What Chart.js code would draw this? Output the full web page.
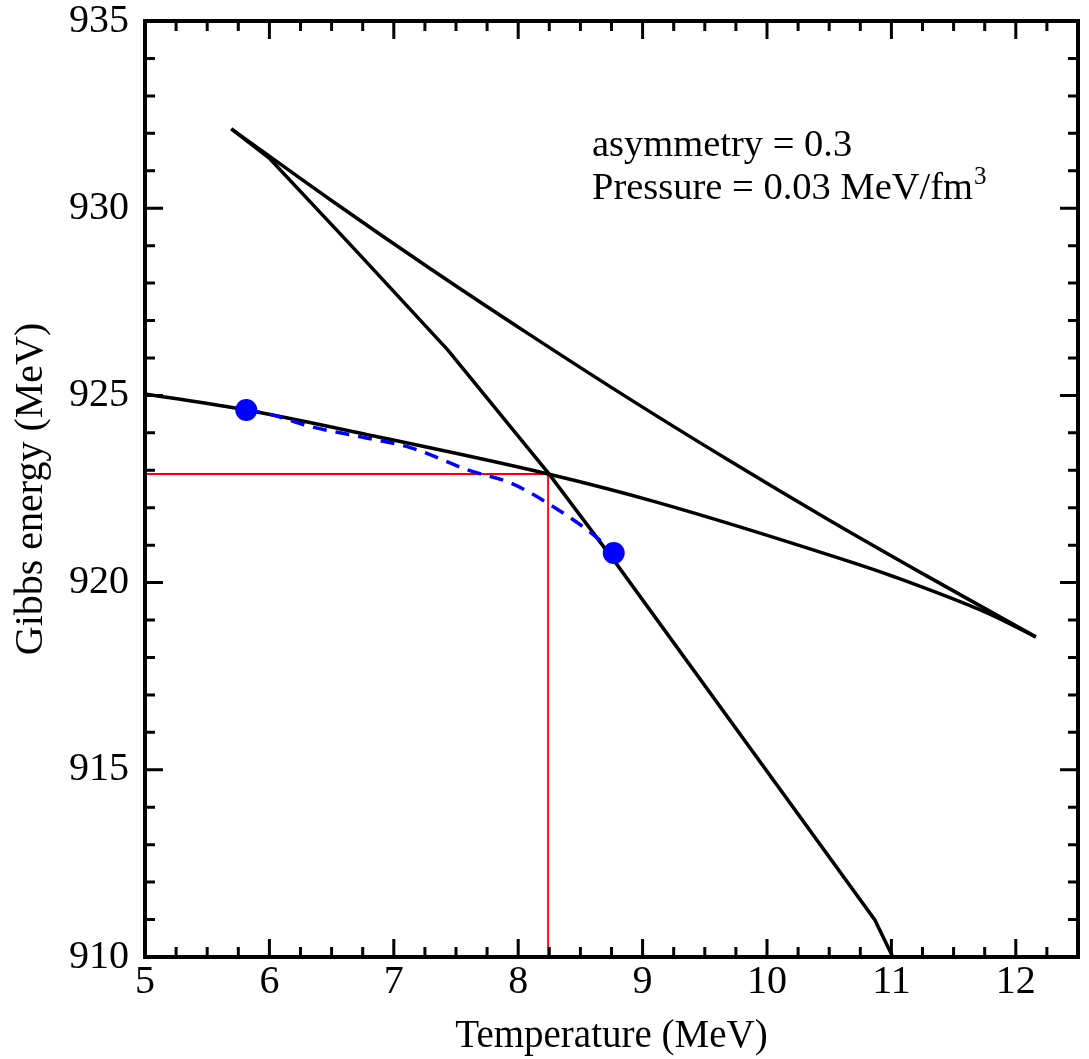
<!DOCTYPE html>
<html>
<head>
<meta charset="utf-8">
<script src="https://cdn.jsdelivr.net/npm/chart.js@4.4.1/dist/chart.umd.min.js"></script>
<style>
  html, body { margin: 0; padding: 0; background: #fff; overflow: hidden; }
  canvas { display: block; }
</style>
</head>
<body>
<canvas id="gibbsChart" width="1089" height="1059"></canvas>
<script>
// ── Gibbs energy vs temperature, three branches + Maxwell path ──
const xTicks = [5, 6, 7, 8, 9, 10, 11, 12];
const yTicks = [910, 915, 920, 925, 930, 935];

// upper (unstable) branch
const upperT = [5.694, 6.493, 7.291, 8.089, 8.888, 9.686, 10.484, 11.283, 12.161];
const upperG = [932.12, 930.22, 928.39, 926.63, 924.92, 923.28, 921.70, 920.18, 918.55];

// steep branch
const steepT = [5.694, 5.998, 6.692, 7.435, 8.241, 8.768, 10.867, 11.070];
const steepG = [932.12, 931.34, 928.88, 926.21, 922.93, 920.60, 910.99, 909.60];

// flat branch
const flatT = [5.0, 5.814, 6.876, 8.241, 9.111, 10.628, 11.027, 11.769, 12.161];
const flatG = [925.04, 924.61, 923.89, 922.90, 922.15, 920.60, 920.15, 919.19, 918.55];

// coexistence path (dashed)
const mixT = [5.814, 6.022, 6.341, 6.740, 7.139, 7.594, 7.938, 8.233, 8.608, 8.768];
const mixG = [924.61, 924.48, 924.16, 923.89, 923.60, 923.01, 922.66, 922.13, 921.27, 920.79];

// end points of the dashed path
const dotT = [5.814, 8.768];
const dotG = [924.61, 920.79];

// crossing point guides
const crossT = 8.24;
const crossG = 922.9;

const pts = (xs, ys) => xs.map((x, i) => ({ x: x, y: ys[i] }));

const serif = "'Liberation Serif', 'Times New Roman', serif";

// no automatic label padding, the frame sits at fixed margins
const noPad = s => { s.paddingLeft = 0; s.paddingRight = 0; s.paddingTop = 0; s.paddingBottom = 0; };

// frame with inward ticks on all four sides
const framePlugin = {
    id: 'frame',
    afterDatasetsDraw(chart) {
        const { ctx, chartArea: a, scales } = chart;
        const xs = scales.x, ys = scales.y;
        ctx.save();
        ctx.strokeStyle = '#000';
        ctx.lineCap = 'butt';

        ctx.lineWidth = 3;
        const major = 18, minor = 10;
        for (let v = xs.min; v <= xs.max + 1e-9; v += 0.25) {
            const px = xs.getPixelForValue(v);
            const len = Math.abs(v - Math.round(v)) < 1e-6 ? major : minor;
            ctx.beginPath();
            ctx.moveTo(px, a.bottom); ctx.lineTo(px, a.bottom - len);
            ctx.moveTo(px, a.top); ctx.lineTo(px, a.top + len);
            ctx.stroke();
        }
        for (let v = ys.min; v <= ys.max + 1e-9; v += 1) {
            const py = ys.getPixelForValue(v);
            const len = Math.round(v) % 5 === 0 ? major : minor;
            ctx.beginPath();
            ctx.moveTo(a.left, py); ctx.lineTo(a.left + len, py);
            ctx.moveTo(a.right, py); ctx.lineTo(a.right - len, py);
            ctx.stroke();
        }

        ctx.lineWidth = 4;
        ctx.strokeRect(a.left, a.top, a.right - a.left, a.bottom - a.top);

        // annotation
        ctx.fillStyle = '#000';
        ctx.textAlign = 'left';
        ctx.textBaseline = 'alphabetic';
        ctx.font = '38.5px ' + serif;
        const tx = 592;
        ctx.fillText('asymmetry = 0.3', tx, 156);
        const line2 = 'Pressure = 0.03 MeV/fm';
        ctx.fillText(line2, tx, 199);
        const w = ctx.measureText(line2).width;
        ctx.font = '25px ' + serif;
        ctx.fillText('3', tx + w + 1, 184);
        ctx.restore();
    }
};

const lineDs = (data, color, width, extra) => Object.assign({
    data: data,
    showLine: true,
    borderColor: color,
    borderWidth: width,
    pointRadius: 0,
    fill: false,
    tension: 0
}, extra || {});

const smooth = { cubicInterpolationMode: 'monotone' };

new Chart(document.getElementById('gibbsChart'), {
    type: 'scatter',
    data: {
        datasets: [
            {
                data: pts(dotT, dotG),
                backgroundColor: '#0000ff',
                borderWidth: 0,
                pointRadius: 11,
                showLine: false
            },
            lineDs(pts(mixT, mixG), '#0000ff', 3.5, Object.assign({ borderDash: [14, 9] }, smooth)),
            lineDs(pts(upperT, upperG), '#000', 3.5, smooth),
            lineDs(pts(steepT, steepG), '#000', 3.5),
            lineDs(pts(flatT, flatG), '#000', 3.5, smooth),
            lineDs([{ x: 5, y: crossG }, { x: crossT, y: crossG }], '#ff0000', 1.8),
            lineDs([{ x: crossT, y: crossG }, { x: crossT, y: 910 }], '#ff0000', 1.8)
        ]
    },
    options: {
        responsive: false,
        animation: false,
        layout: { padding: { top: 21, right: 4.5, left: 0, bottom: 0 } },
        plugins: { legend: { display: false }, tooltip: { enabled: false } },
        scales: {
            x: {
                type: 'linear',
                min: 5, max: 12.5,
                afterBuildTicks: s => { s.ticks = xTicks.map(v => ({ value: v })); },
                afterFit: s => { s.height = 102; noPad(s); },
                grid: { display: false, drawTicks: false },
                border: { display: false },
                ticks: { color: '#000', padding: 5, font: { family: serif, size: 40, lineHeight: 1 } },
                title: { display: true, text: 'Temperature (MeV)', color: '#000', padding: { top: 0, bottom: 3 }, font: { family: serif, size: 39, lineHeight: 1 } }
            },
            y: {
                type: 'linear',
                min: 910, max: 935,
                afterBuildTicks: s => { s.ticks = yTicks.map(v => ({ value: v })); },
                afterFit: s => { s.width = 145; noPad(s); },
                grid: { display: false, drawTicks: false },
                border: { display: false },
                ticks: { color: '#000', padding: 16, font: { family: serif, size: 40, lineHeight: 1 } },
                title: { display: true, text: 'Gibbs energy (MeV)', color: '#000', padding: { top: 11, bottom: 0 }, font: { family: serif, size: 40, lineHeight: 1 } }
            }
        }
    },
    plugins: [framePlugin]
});
</script>
</body>
</html>
